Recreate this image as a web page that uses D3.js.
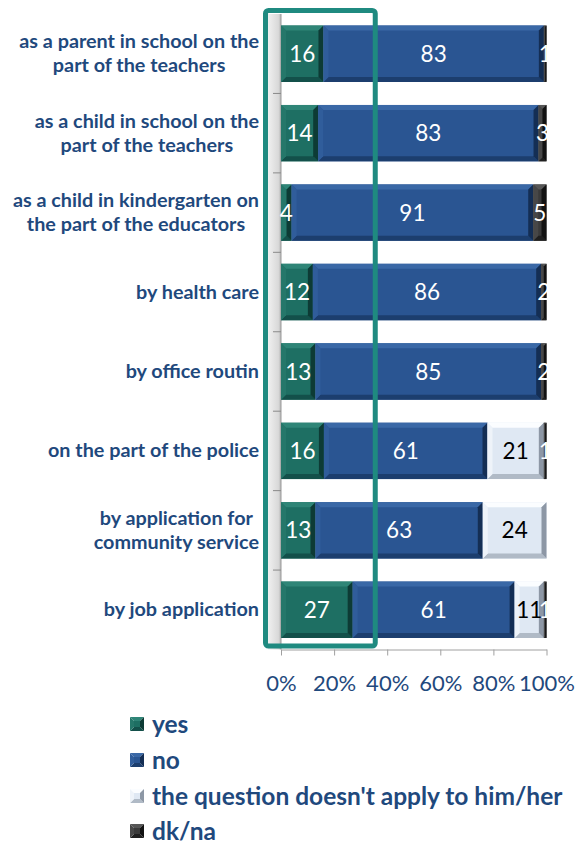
<!DOCTYPE html>
<html>
<head>
<meta charset="utf-8">
<script src="https://cdn.jsdelivr.net/npm/d3@7/dist/d3.min.js"></script>
<style>
  body { margin: 0; background: #ffffff; }
  svg { display: block; }
  text { font-family: Lato, "Open Sans", sans-serif; }
</style>
</head>
<body>
<svg id="chart" width="579" height="845"></svg>
<script>
// Survey rows (top to bottom) and answer shares in percent
const categories = [
  "as a parent in school on the\npart of the teachers",
  "as a child in school on the\npart of the teachers",
  "as a child in kindergarten on\nthe part of the educators",
  "by health care",
  "by office routin",
  "on the part of the police",
  "by application for\ncommunity service",
  "by job application"
];
const yesValues = [16, 14, 4, 12, 13, 16, 13, 27];
const noValues  = [83, 83, 91, 86, 85, 61, 63, 61];
const naValues  = [0, 0, 0, 0, 0, 21, 24, 11];
const dkValues  = [1, 3, 5, 2, 2, 1, 0, 1];
const seriesKeys  = ["yes", "no", "na", "dk"];
const seriesNames = ["yes", "no", "the question doesn't apply to him/her", "dk/na"];
const tickValues = [0, 0.2, 0.4, 0.6, 0.8, 1];
const tickLabels = ["0%", "20%", "40%", "60%", "80%", "100%"];

// Bevel shades per series: base face, top, left, bottom, right
const shades = {
  yes: { base: "#1e6f63", top: "#2f8577", left: "#25776a", bottom: "#13504a", right: "#0d3b35", label: "#ffffff" },
  no:  { base: "#2a5592", top: "#3a68a6", left: "#305d9b", bottom: "#1c3e6e", right: "#142e54", label: "#ffffff" },
  na:  { base: "#dfe8f3", top: "#fbfdff", left: "#eef3f9", bottom: "#b0bac6", right: "#8d97a5", label: "#000000" },
  dk:  { base: "#3a3a3a", top: "#565656", left: "#474747", bottom: "#1f1f1f", right: "#121212", label: "#ffffff" }
};
const textBlue = "#1f497d";

const rows = categories.map((c, i) => ({
  cat: c, yes: yesValues[i], no: noValues[i], na: naValues[i], dk: dkValues[i]
}));

const stacked = d3.stack().keys(seriesKeys).offset(d3.stackOffsetExpand)(rows);

const svg = d3.select("#chart");

const x = d3.scaleLinear().domain([0, 1]).range([281, 546.5]);
const y = d3.scaleBand().domain(categories).range([14, 649.5])
  .paddingInner(0.29).paddingOuter(0.145);

// Side wall of the plot area
const defs = svg.append("defs");
const wallGrad = defs.append("linearGradient").attr("id", "wall")
  .attr("x1", "0").attr("x2", "1").attr("y1", "0").attr("y2", "0");
wallGrad.append("stop").attr("offset", "0").attr("stop-color", "#f0f0f0");
wallGrad.append("stop").attr("offset", "0.8").attr("stop-color", "#d9d9d9");
wallGrad.append("stop").attr("offset", "1").attr("stop-color", "#b8b8b8");

svg.append("rect")
  .attr("x", x(0) - 13).attr("y", y.range()[0])
  .attr("width", 13).attr("height", y.range()[1] - y.range()[0])
  .attr("fill", "url(#wall)");

// Category axis line with ticks between the bands
svg.append("line")
  .attr("x1", x(0)).attr("x2", x(0))
  .attr("y1", y.range()[0]).attr("y2", y.range()[1])
  .attr("stroke", "#9a9a9a").attr("stroke-width", 1);
const step = y.step();
svg.append("g").selectAll("line")
  .data(categories.slice(1))
  .join("line")
  .attr("x1", x(0) - 8).attr("x2", x(0))
  .attr("y1", d => y(d) - step * y.paddingInner() / 2)
  .attr("y2", d => y(d) - step * y.paddingInner() / 2)
  .attr("stroke", "#8a8a8a").attr("stroke-width", 1);

// Bevelled bar segments
function bevel(g, x0, y0, w, h, s) {
  const b = Math.min(5, w / 2, h / 2);
  g.append("rect").attr("x", x0).attr("y", y0).attr("width", w).attr("height", h).attr("fill", s.base);
  const poly = (pts, fill) => g.append("polygon").attr("points", pts.map(p => p.join(",")).join(" ")).attr("fill", fill);
  poly([[x0, y0], [x0 + w, y0], [x0 + w - b, y0 + b], [x0 + b, y0 + b]], s.top);
  poly([[x0, y0 + h], [x0 + w, y0 + h], [x0 + w - b, y0 + h - b], [x0 + b, y0 + h - b]], s.bottom);
  poly([[x0, y0], [x0 + b, y0 + b], [x0 + b, y0 + h - b], [x0, y0 + h]], s.left);
  poly([[x0 + w, y0], [x0 + w - b, y0 + b], [x0 + w - b, y0 + h - b], [x0 + w, y0 + h]], s.right);
}

const barsG = svg.append("g");
stacked.forEach(layer => {
  layer.forEach(d => {
    const w = x(d[1]) - x(d[0]);
    if (w <= 0) return;
    const g = barsG.append("g").attr("class", "seg-" + layer.key);
    bevel(g, x(d[0]), y(d.data.cat), w, y.bandwidth(), shades[layer.key]);
  });
});

// Value labels, clipped at the right edge of the plot
defs.append("clipPath").attr("id", "plotClip")
  .append("rect").attr("x", 0).attr("y", 0).attr("width", x(1) + 0.5).attr("height", 845);

const labelsG = svg.append("g").attr("clip-path", "url(#plotClip)");
stacked.forEach(layer => {
  labelsG.selectAll(null)
    .data(layer.filter(d => d.data[layer.key] > 0))
    .join("text")
    .attr("x", d => (x(d[0]) + x(d[1])) / 2)
    .attr("y", d => y(d.data.cat) + y.bandwidth() / 2)
    .attr("dy", "0.36em")
    .attr("text-anchor", "middle")
    .attr("font-size", 22.5)
    .attr("fill", shades[layer.key].label)
    .text(d => d.data[layer.key]);
});

// Highlight frame around the "yes" column
svg.append("rect")
  .attr("x", x(0) - 15.5).attr("y", 10.5)
  .attr("width", x(0.355) - x(0) + 15.5).attr("height", 635.5)
  .attr("rx", 3)
  .attr("fill", "none")
  .attr("stroke", "#1f8a80").attr("stroke-width", 5);

// Percentage axis
const xAxis = d3.axisBottom(x)
  .tickValues(tickValues)
  .tickFormat((d, i) => tickLabels[i])
  .tickSizeInner(6).tickSizeOuter(0).tickPadding(20);
const axG = svg.append("g").attr("transform", `translate(0,${y.range()[1]})`).call(xAxis);
axG.select(".domain").attr("stroke", "#a0a0a0");
axG.selectAll(".tick line").attr("stroke", "#a0a0a0");
axG.selectAll(".tick text")
  .attr("font-family", "Lato, sans-serif")
  .attr("font-size", 22)
  .attr("fill", textBlue);

// Category labels: multi-line blocks, centred lines, right-aligned block
const catG = svg.append("g");
const lineGap = 24;
categories.forEach(c => {
  const lines = c.split("\n");
  const cy = y(c) + y.bandwidth() / 2;
  const t = catG.append("text")
    .attr("font-size", 19.8).attr("font-weight", 700)
    .attr("fill", textBlue).attr("text-anchor", "middle");
  const spans = lines.map((ln, i) =>
    t.append("tspan")
      .attr("y", cy + (i - (lines.length - 1) / 2) * lineGap)
      .attr("dy", "0.33em")
      .text(ln));
  const maxW = d3.max(spans, s => s.node().getComputedTextLength());
  spans.forEach(s => s.attr("x", 259 - maxW / 2));
});

// Legend
const legendG = svg.append("g");
const legendY = [724, 760, 796, 831];
seriesKeys.forEach((k, i) => {
  const s = shades[k];
  const cx = 137, cy = legendY[i], r = 7;
  const g = legendG.append("g");
  const tri = (pts, fill) => g.append("polygon").attr("points", pts.map(p => p.join(",")).join(" ")).attr("fill", fill);
  tri([[cx - r, cy - r], [cx + r, cy - r], [cx, cy]], s.top);
  tri([[cx - r, cy + r], [cx + r, cy + r], [cx, cy]], s.bottom);
  tri([[cx - r, cy - r], [cx - r, cy + r], [cx, cy]], s.left);
  tri([[cx + r, cy - r], [cx + r, cy + r], [cx, cy]], s.right);
  g.append("rect").attr("x", cx - 3).attr("y", cy - 3).attr("width", 6).attr("height", 6).attr("fill", s.base);
  legendG.append("text")
    .attr("x", 152).attr("y", cy).attr("dy", "0.35em")
    .attr("font-size", 24.5).attr("font-weight", 700)
    .attr("fill", textBlue)
    .text(seriesNames[i]);
});
</script>
</body>
</html>
